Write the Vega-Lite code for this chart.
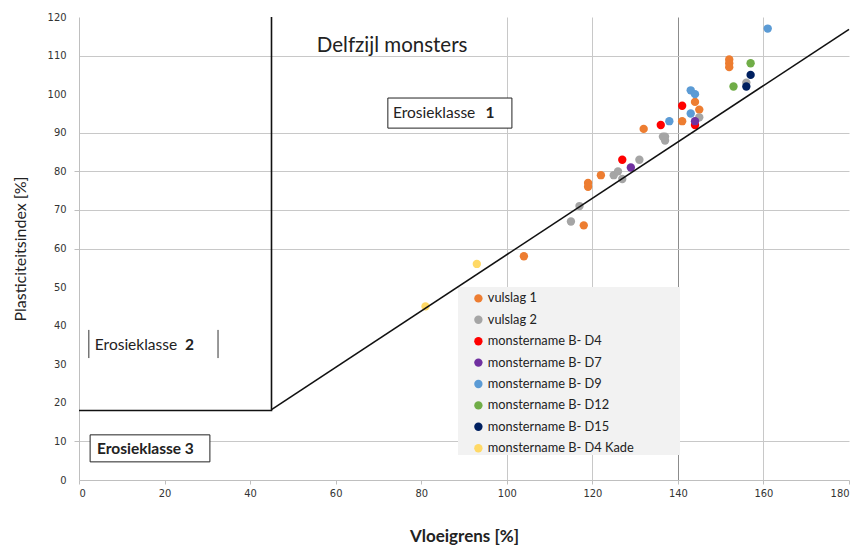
{
  "$schema": "https://vega.github.io/schema/vega-lite/v6.json",
  "width": 770,
  "height": 463,
  "autosize": {"type": "none"},
  "padding": {"left": 79, "top": 17, "right": 9, "bottom": 67},
  "background": "white",
  "config": {"view": {"stroke": null}, "font": "Lato"},
  "datasets": {
    "points": [
      {"LL": 104, "PI": 58, "serie": "vulslag 1"},
      {"LL": 118, "PI": 66, "serie": "vulslag 1"},
      {"LL": 119, "PI": 77, "serie": "vulslag 1"},
      {"LL": 119, "PI": 76, "serie": "vulslag 1"},
      {"LL": 122, "PI": 79, "serie": "vulslag 1"},
      {"LL": 132, "PI": 91, "serie": "vulslag 1"},
      {"LL": 141, "PI": 93, "serie": "vulslag 1"},
      {"LL": 144, "PI": 98, "serie": "vulslag 1"},
      {"LL": 145, "PI": 96, "serie": "vulslag 1"},
      {"LL": 152, "PI": 109, "serie": "vulslag 1"},
      {"LL": 152, "PI": 108, "serie": "vulslag 1"},
      {"LL": 152, "PI": 107, "serie": "vulslag 1"},
      {"LL": 115, "PI": 67, "serie": "vulslag 2"},
      {"LL": 117, "PI": 71, "serie": "vulslag 2"},
      {"LL": 125, "PI": 79, "serie": "vulslag 2"},
      {"LL": 126, "PI": 80, "serie": "vulslag 2"},
      {"LL": 127, "PI": 78, "serie": "vulslag 2"},
      {"LL": 131, "PI": 83, "serie": "vulslag 2"},
      {"LL": 136.5, "PI": 89, "serie": "vulslag 2"},
      {"LL": 137, "PI": 89, "serie": "vulslag 2"},
      {"LL": 137, "PI": 88, "serie": "vulslag 2"},
      {"LL": 145, "PI": 94, "serie": "vulslag 2"},
      {"LL": 156, "PI": 103, "serie": "vulslag 2"},
      {"LL": 127, "PI": 83, "serie": "monstername B- D4"},
      {"LL": 136, "PI": 92, "serie": "monstername B- D4"},
      {"LL": 141, "PI": 97, "serie": "monstername B- D4"},
      {"LL": 144, "PI": 92, "serie": "monstername B- D4"},
      {"LL": 129, "PI": 81, "serie": "monstername B- D7"},
      {"LL": 144, "PI": 93, "serie": "monstername B- D7"},
      {"LL": 138, "PI": 93, "serie": "monstername B- D9"},
      {"LL": 143, "PI": 95, "serie": "monstername B- D9"},
      {"LL": 143, "PI": 101, "serie": "monstername B- D9"},
      {"LL": 144, "PI": 100, "serie": "monstername B- D9"},
      {"LL": 161, "PI": 117, "serie": "monstername B- D9"},
      {"LL": 153, "PI": 102, "serie": "monstername B- D12"},
      {"LL": 157, "PI": 108, "serie": "monstername B- D12"},
      {"LL": 157, "PI": 105, "serie": "monstername B- D15"},
      {"LL": 156, "PI": 102, "serie": "monstername B- D15"},
      {"LL": 93, "PI": 56, "serie": "monstername B- D4 Kade"},
      {"LL": 81, "PI": 45, "serie": "monstername B- D4 Kade"}
    ],
    "boundaries": [
      {"LL": 45, "PI": 120, "seg": "a", "o": 1},
      {"LL": 45, "PI": 18, "seg": "a", "o": 2},
      {"LL": 0, "PI": 18, "seg": "a", "o": 3},
      {"LL": 45, "PI": 18.25, "seg": "b", "o": 1},
      {"LL": 180, "PI": 116.8, "seg": "b", "o": 2}
    ],
    "legendBox": [
      {"LL": 88.6, "LL2": 140.5, "PI": 6.5, "PI2": 50.0}
    ],
    "boxes": [
      {"LL": 72.2, "LL2": 101.2, "PI": 91.2, "PI2": 99.0},
      {"LL": 2.6, "LL2": 30.6, "PI": 4.7, "PI2": 11.7}
    ],
    "bars": [
      {"LL": 2.3, "PI": 31.6, "PI2": 38.9},
      {"LL": 32.5, "PI": 31.6, "PI2": 38.9}
    ],
    "plainText": [
      {"LL": 73.4, "PI": 95.1, "t": "Erosieklasse"},
      {"LL": 3.7, "PI": 34.9, "t": "Erosieklasse"}
    ],
    "boldText": [
      {"LL": 95.0, "PI": 95.1, "t": "1"},
      {"LL": 24.8, "PI": 34.9, "t": "2"},
      {"LL": 4.2, "PI": 8.0, "t": "Erosieklasse 3"}
    ],
    "title": [
      {"LL": 73.2, "PI": 112.5, "t": "Delfzijl monsters"}
    ]
  },
  "encoding": {
    "x": {
      "field": "LL", "type": "quantitative",
      "scale": {"domain": [0, 180], "nice": false, "zero": true},
      "axis": {
        "title": "Vloeigrens [%]",
        "titleFontWeight": "bold", "titleFontSize": 17, "titleColor": "#222",
        "titlePadding": 30,
        "values": [0, 20, 40, 60, 80, 100, 120, 140, 160, 180],
        "labelOverlap": false,
        "labelFontSize": 11, "labelColor": "#333", "labelFont": "DejaVu Sans Condensed",
        "labelPadding": 3,
        "tickSize": 4, "tickColor": "#bfbfbf",
        "domainColor": "#bfbfbf",
        "grid": true,
        "gridColor": {"condition": {"test": "datum.value === 140", "value": "#8c8c8c"}, "value": "#c8c8c8"},
        "gridOpacity": {"condition": {"test": "datum.value >= 100 && datum.value < 180", "value": 1}, "value": 0}
      }
    },
    "y": {
      "field": "PI", "type": "quantitative",
      "scale": {"domain": [0, 120], "nice": false},
      "axis": {
        "title": "Plasticiteitsindex [%]",
        "titleFontWeight": "normal", "titleFontSize": 16, "titleColor": "#222",
        "titlePadding": 19,
        "values": [0, 10, 20, 30, 40, 50, 60, 70, 80, 90, 100, 110, 120],
        "labelOverlap": false,
        "labelFontSize": 11, "labelColor": "#333", "labelFont": "DejaVu Sans Condensed",
        "labelPadding": 8,
        "tickColor": "#bfbfbf", "tickSize": 5,
        "tickOpacity": {"condition": {"test": "indexof([10, 60, 70, 80], datum.value) >= 0", "value": 1}, "value": 0},
        "domainColor": "#bfbfbf",
        "grid": true,
        "gridColor": "#c8c8c8",
        "gridOpacity": {"condition": {"test": "indexof([10, 60, 70, 80, 90, 110], datum.value) >= 0", "value": 1}, "value": 0}
      }
    }
  },
  "layer": [
    {
      "data": {"name": "legendBox"},
      "mark": {"type": "rect", "fill": "#f2f2f2"},
      "encoding": {
        "x2": {"field": "LL2"},
        "y2": {"field": "PI2"}
      }
    },
    {
      "data": {"name": "points"},
      "mark": {"type": "point", "filled": true, "shape": "circle", "size": 70, "opacity": 1},
      "encoding": {
        "color": {
          "field": "serie", "type": "nominal",
          "scale": {
            "domain": ["vulslag 1", "vulslag 2", "monstername B- D4", "monstername B- D7", "monstername B- D9", "monstername B- D12", "monstername B- D15", "monstername B- D4 Kade"],
            "range": ["#ed7d31", "#a5a5a5", "#ff0000", "#7030a0", "#5b9bd5", "#70ad47", "#002060", "#ffd966"]
          },
          "legend": {
            "title": null,
            "orient": "none",
            "legendX": 393,
            "legendY": 275,
            "padding": 0,
            "symbolType": "circle",
            "symbolSize": 70,
            "labelFontSize": 12.8,
            "labelColor": "#222",
            "labelFont": "Lato",
            "rowPadding": 7.4,
            "labelOffset": 3,
            "labelLimit": 300
          }
        }
      }
    },
    {
      "data": {"name": "boundaries"},
      "mark": {"type": "line", "color": "#111", "strokeWidth": 1.6},
      "encoding": {
        "detail": {"field": "seg"},
        "order": {"field": "o"}
      }
    },
    {
      "data": {"name": "boxes"},
      "mark": {"type": "rect", "fill": "white", "stroke": "#222", "strokeWidth": 1},
      "encoding": {
        "x2": {"field": "LL2"},
        "y2": {"field": "PI2"}
      }
    },
    {
      "data": {"name": "bars"},
      "mark": {"type": "rule", "color": "#333", "strokeWidth": 1},
      "encoding": {
        "y2": {"field": "PI2"}
      }
    },
    {
      "data": {"name": "plainText"},
      "mark": {"type": "text", "align": "left", "baseline": "middle", "fontSize": 15.5, "color": "#222", "font": "Lato"},
      "encoding": {
        "text": {"field": "t"}
      }
    },
    {
      "data": {"name": "boldText"},
      "mark": {"type": "text", "align": "left", "baseline": "middle", "fontSize": 15.5, "fontWeight": "bold", "color": "#222", "font": "Lato"},
      "encoding": {
        "text": {"field": "t"}
      }
    },
    {
      "data": {"name": "title"},
      "mark": {"type": "text", "align": "center", "baseline": "middle", "fontSize": 20.5, "color": "#222", "font": "Lato"},
      "encoding": {
        "text": {"field": "t"}
      }
    }
  ]
}
